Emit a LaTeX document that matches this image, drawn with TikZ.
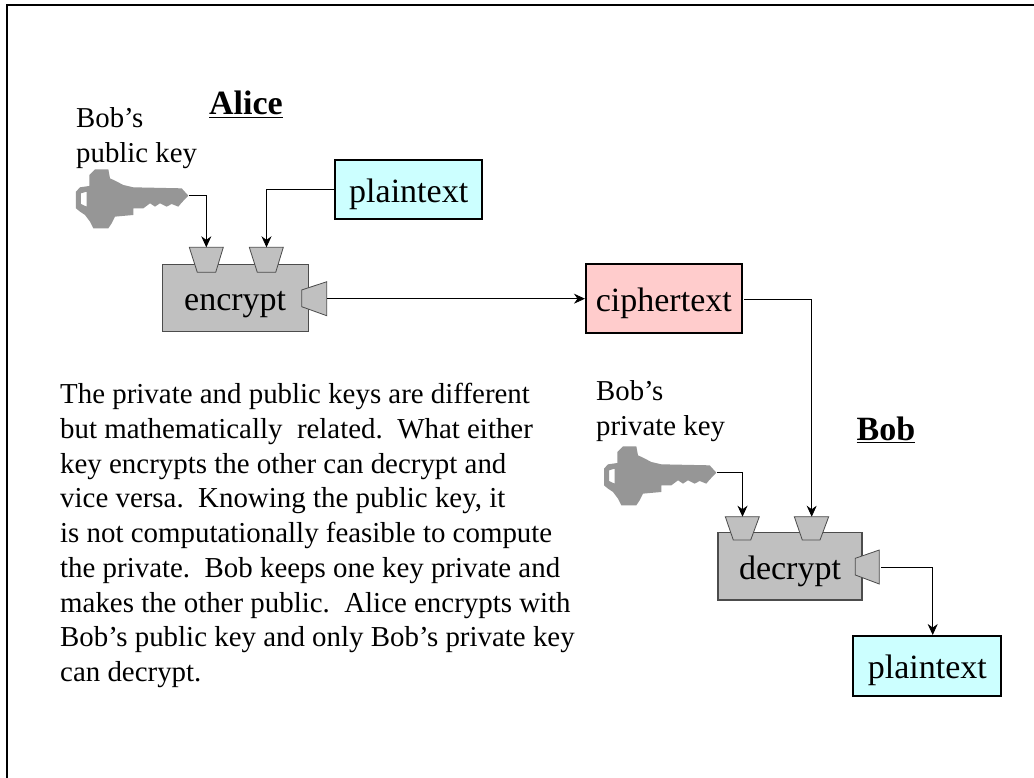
\documentclass[tikz,border=0pt]{standalone}
\usetikzlibrary{arrows.meta}
\usepackage{fontspec}
\setmainfont{Liberation Serif}
\definecolor{boxgray}{RGB}{192,192,192}
\definecolor{keygray}{RGB}{150,150,150}
\definecolor{lightcyan}{RGB}{204,255,255}
\definecolor{lightpink}{RGB}{255,204,204}
\tikzset{
  x=1pt,y=-1pt,
  proc/.style={draw=black!70,line width=1.2pt,fill=boxgray,minimum width=#1,minimum height=67.5pt,inner sep=0pt,text height=26pt,text depth=0pt,font=\fontsize{34}{34}\selectfont},
  port/.style={draw=black!70,line width=.8pt,fill=boxgray},
  data/.style={draw=black,line width=2pt,inner sep=0pt,text height=26pt,text depth=0pt,font=\fontsize{34}{34}\selectfont},
  conn/.style={draw=black,line width=.8pt,-{Stealth[length=11pt,width=10pt]}},
  lbl/.style={inner sep=0pt,align=left,font=\fontsize{28.8}{35}\selectfont},
  heading/.style={inner sep=0pt,anchor=base,font=\fontsize{34}{34}\selectfont\bfseries},
  keyshape/.pic={
    \fill[keygray,even odd rule] (48,335)--(60,322)--(88,318)--(88,285)--(105,268)--(145,268)--(150,295)--(165,302)--(190,315)--(220,322)--(365,325)--(385,347)--(365,368)--(355,380)--(335,372)--(320,380)--(300,370)--(285,380)--(270,370)--(250,385)--(220,385)--(220,405)--(165,410)--(155,430)--(145,445)--(100,445)--(90,425)--(75,405)--(60,395)--(48,385)--cycle
    (63,340)--(80,335)--(80,380)--(63,372)--cycle;
  }
}
\begin{document}
\begin{tikzpicture}
\useasboundingbox (0,0) rectangle (1034,778);
\fill[white] (0,0) rectangle (1034,778);
\draw[black,line width=1.2pt] (7,778) -- (7,5) -- (1034,5);
% keys
\begin{scope}[shift={(60,80)},x=.3333pt,y=-.3333pt]
\pic {keyshape};
\end{scope}
\begin{scope}[shift={(588,357)},x=.3333pt,y=-.3333pt]
\pic {keyshape};
\end{scope}
\coordinate (keyA) at (189,195.5);
\coordinate (keyB) at (717,472.5);
% process boxes
\node[proc=146pt] (enc) at (235.2,298) {encrypt};
\node[proc=144pt] (dec) at (790,566.3) {decrypt};
% ports
\draw[port] (189.3,247.3)--(223.3,247.3)--(215.7,272.3)--(197.3,272.3)--cycle;
\draw[port] (249.3,247.3)--(283.3,247.3)--(275.7,272.3)--(257.3,272.3)--cycle;
\draw[port] (301.7,290)--(326.7,281.7)--(326.7,315.7)--(301.7,306.7)--cycle;
\draw[port] (725.3,516.7)--(759.3,516.7)--(750.7,540)--(733.3,540)--cycle;
\draw[port] (794.3,516.7)--(828.7,516.7)--(820,540)--(802.3,540)--cycle;
\draw[port] (855.3,558.3)--(879.3,550)--(879.3,584)--(855.3,575)--cycle;
\coordinate (inA1) at (206.3,247.3);
\coordinate (inA2) at (266.5,247.3);
\coordinate (outA) at (327,298.7);
\coordinate (inB1) at (742.5,516.7);
\coordinate (inB2) at (811.7,516.7);
\coordinate (outB) at (881,567);
\coordinate (ctout) at (744,299.3);
\coordinate (ptin) at (932.7,635);
% data
\node[data,fill=lightcyan,minimum width=146.7pt,minimum height=59.3pt] (pt1) at (408.7,189.7) {plaintext};
\node[data,fill=lightpink,minimum width=155.7pt,minimum height=69.3pt] (ct) at (663.8,298.7) {ciphertext};
\node[data,fill=lightcyan,minimum width=148pt,minimum height=60.3pt] (pt2) at (927.3,665.8) {plaintext};
% connectors
\draw[conn] (keyA) -| (inA1);
\draw[conn] (pt1.west) -| (inA2);
\draw[conn] (outA) -- (ct.west);
\draw[conn] (ctout) -| (inB2);
\draw[conn] (keyB) -| (inB1);
\draw[conn] (outB) -| (ptin);
% labels
\node[lbl,anchor=north west] (l1) at (76,107) {Bob’s\\public key};
\node[lbl,anchor=north west] (l2) at (596,380) {Bob’s\\private key};
\node[heading] (alice) at (246,115) {\underline{Alice}};
\node[heading] (bob) at (886,440) {\underline{Bob}};
\node[inner sep=0pt,anchor=north west,align=left,font=\fontsize{28.9}{34.75}\selectfont] (body) at (60,383) {The private and public keys are different\\
but mathematically\ \ related.\ \ What either\\
key encrypts the other can decrypt and\\
vice versa.\ \ Knowing the public key, it\\
is not computationally feasible to compute\\
the private.\ \ Bob keeps one key private and\\
makes the other public.\ \ Alice encrypts with\\
Bob’s public key and only Bob’s private key\\
can decrypt.};
\end{tikzpicture}
\end{document}
